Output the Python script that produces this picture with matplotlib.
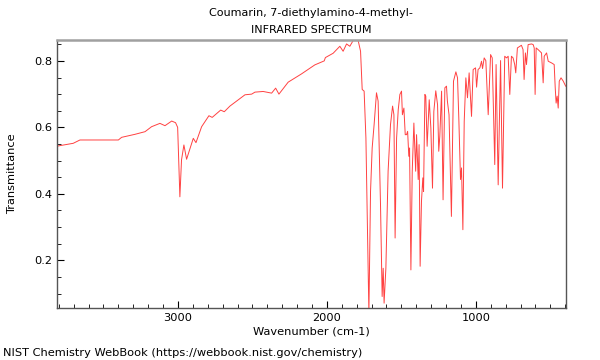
import matplotlib
matplotlib.use("Agg")
import matplotlib.pyplot as plt
from matplotlib.ticker import MultipleLocator

# spectrum (wavenumber cm-1, transmittance)
wavenumber = [
    3810, 3805, 3703, 3658, 3400, 3378, 3289, 3221, 3177, 3121, 3087, 3042, 3016, 3002,
    2987, 2976, 2960, 2942, 2897, 2879, 2841, 2792, 2770, 2713, 2689, 2651, 2550, 2505,
    2483, 2428, 2371, 2344, 2322, 2260, 2170, 2081, 2018, 2010, 1958, 1913, 1891, 1868,
    1846, 1824, 1790, 1774, 1763, 1750, 1738, 1718, 1707, 1696, 1683, 1667, 1656, 1640,
    1629, 1622, 1616, 1604, 1589, 1573, 1559, 1550, 1542, 1532, 1521, 1510, 1499, 1493,
    1483, 1474, 1465, 1458, 1450, 1445, 1436, 1427, 1416, 1404, 1398, 1387, 1381, 1374,
    1365, 1356, 1351, 1342, 1336, 1327, 1313, 1302, 1291, 1282, 1269, 1257, 1249, 1242,
    1230, 1220, 1208, 1197, 1191, 1180, 1164, 1150, 1134, 1123, 1114, 1103, 1096, 1087,
    1078, 1067, 1056, 1045, 1029, 1018, 1002, 995, 985, 973, 962, 955, 944, 933,
    917, 901, 890, 873, 864, 850, 834, 821, 806, 794, 783, 772, 761, 750,
    739, 732, 721, 694, 683, 676, 667, 660, 649, 626, 615, 608, 602, 595,
    582, 571, 559, 548, 541, 525, 514, 492, 474, 467, 461, 454, 447, 440,
    428, 413, 397,
]
transmittance = [
    0.543, 0.544, 0.552, 0.562, 0.562, 0.570, 0.579, 0.587, 0.602, 0.612, 0.605, 0.619, 0.614, 0.600,
    0.391, 0.502, 0.547, 0.504, 0.567, 0.554, 0.602, 0.635, 0.630, 0.652, 0.647, 0.664, 0.698, 0.700,
    0.706, 0.708, 0.703, 0.718, 0.700, 0.736, 0.761, 0.788, 0.800, 0.810, 0.823, 0.844, 0.829, 0.851,
    0.844, 0.861, 0.861, 0.829, 0.714, 0.709, 0.568, 0.040, 0.407, 0.538, 0.608, 0.704, 0.679, 0.367,
    0.091, 0.176, 0.071, 0.176, 0.468, 0.608, 0.664, 0.638, 0.267, 0.568, 0.653, 0.699, 0.709, 0.638,
    0.658, 0.578, 0.578, 0.588, 0.513, 0.538, 0.171, 0.468, 0.613, 0.468, 0.578, 0.443, 0.548, 0.182,
    0.377, 0.448, 0.407, 0.699, 0.694, 0.543, 0.683, 0.598, 0.417, 0.648, 0.710, 0.668, 0.528, 0.573,
    0.709, 0.382, 0.719, 0.724, 0.679, 0.638, 0.332, 0.739, 0.767, 0.749, 0.623, 0.443, 0.478, 0.292,
    0.618, 0.749, 0.689, 0.764, 0.633, 0.774, 0.779, 0.721, 0.774, 0.779, 0.799, 0.777, 0.809, 0.801,
    0.638, 0.819, 0.809, 0.488, 0.789, 0.427, 0.801, 0.417, 0.814, 0.809, 0.814, 0.699, 0.814, 0.809,
    0.789, 0.764, 0.839, 0.847, 0.834, 0.744, 0.824, 0.789, 0.849, 0.851, 0.849, 0.839, 0.699, 0.839,
    0.834, 0.829, 0.824, 0.734, 0.814, 0.824, 0.799, 0.794, 0.789, 0.719, 0.673, 0.694, 0.658, 0.739,
    0.749, 0.739, 0.724,
]

fig = plt.figure(figsize=(6, 3.6), dpi=100)
ax = fig.add_axes([0.095, 0.145, 0.848, 0.744])

ax.plot(wavenumber, transmittance, color="#ff2020", lw=0.7, alpha=0.85)

ax.set_xlim(3812, 396)
ax.set_ylim(0.057, 0.863)
ax.xaxis.set_major_locator(MultipleLocator(1000))
ax.xaxis.set_minor_locator(MultipleLocator(100))
ax.yaxis.set_major_locator(MultipleLocator(0.2))
ax.yaxis.set_minor_locator(MultipleLocator(0.05))
ax.tick_params(which="both", direction="in", labelsize=8.2, top=False, right=False)
ax.tick_params(which="major", length=5)
ax.tick_params(which="minor", length=3)

for s in ["left", "bottom", "right"]:
    ax.spines[s].set_color("#555555")
    ax.spines[s].set_linewidth(1)
ax.spines["top"].set_color("#a0a0a0")
ax.spines["top"].set_linewidth(1.8)

ax.set_xlabel("Wavenumber (cm-1)", fontsize=8.2, labelpad=3)
ax.set_ylabel("Transmittance", fontsize=8.2)
ax.yaxis.set_label_coords(-0.078, 0.5)
fig.text(0.519, 0.963, "Coumarin, 7-diethylamino-4-methyl-", ha="center", va="center", fontsize=8)
fig.text(0.519, 0.916, "INFRARED SPECTRUM", ha="center", va="center", fontsize=8)
fig.text(0.005, 0.02, "NIST Chemistry WebBook (https://webbook.nist.gov/chemistry)",
         ha="left", va="center", fontsize=8.2)

fig.savefig("out.png", dpi=100)
